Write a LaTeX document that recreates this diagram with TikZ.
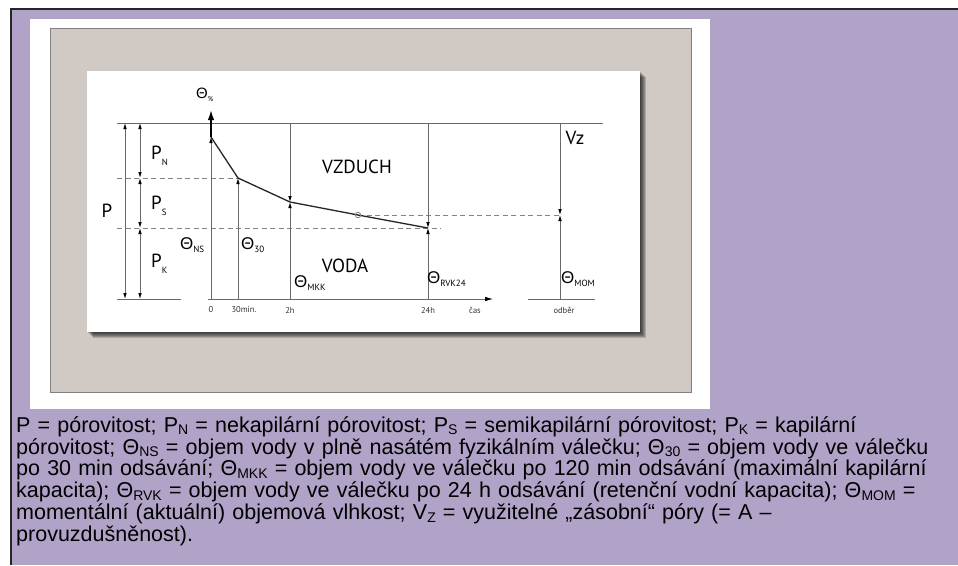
\documentclass[tikz,border=0pt]{standalone}
\usepackage{fontspec}
\setmainfont{Liberation Sans}
\newfontfamily\dfont{PT Sans}
\usetikzlibrary{arrows.meta}
\definecolor{lila}{RGB}{177,162,200}
\definecolor{beige}{RGB}{209,201,195}
\definecolor{bframe}{RGB}{130,128,126}
\definecolor{lgray}{RGB}{105,105,105}
\definecolor{dgray}{RGB}{130,130,130}
\newcommand\lsub[1]{\raisebox{-0.12em}{\fontsize{14}{14}\selectfont #1}}
\newcommand\dth{{\fontsize{17}{17}\selectfont\normalfont Θ}}
\newcommand\dsb[1]{\raisebox{-0.3em}{\fontsize{9}{9}\selectfont\dfont #1}}
\tikzset{
  gl/.style={draw=lgray, line width=0.8pt},
  dl/.style={draw=dgray, line width=0.8pt, dash pattern=on 5pt off 3.5pt},
  ar/.style={-{Latex[length=6pt,width=3.6pt,color=black]}},
  dar/.style={{Latex[length=6pt,width=3.6pt,color=black]}-{Latex[length=6pt,width=3.6pt,color=black]}},
  lbl/.style={inner sep=0pt, font=\dfont\fontsize{19}{19}\selectfont},
  ticklbl/.style={inner sep=0pt, font=\dfont\fontsize{8.5}{8.5}\selectfont, text=black!80},
  thlbl/.style={inner sep=0pt, anchor=west},
  captxt/.style={inner sep=0pt, anchor=base west, text width=940pt, align=left,
    font=\fontsize{21.5}{21.8}\selectfont}
}
\begin{document}
\begin{tikzpicture}[x=1pt,y=-1pt]
\useasboundingbox (0,0) rectangle (958,565);
\fill[white] (0,0) rectangle (958,565);
% frame
\fill[lila] (11,9) rectangle (958,565);
\draw[black!85, line width=2pt] (11,565) -- (11,8.5) -- (958,8.5);
\fill[white] (30,19) rectangle (710,409);
\draw[bframe, fill=beige, line width=1pt] (50,28) rectangle (691,392);
\foreach \i in {1,...,6} {\fill[black, opacity=0.17] (87+\i,71+\i) rectangle (640+\i,332+\i);}
\fill[white] (87,71) rectangle (640,332);

% coordinates
\coordinate (topL) at (117,123); \coordinate (topR) at (603,123);
\coordinate (botL) at (117,299); \coordinate (botLe) at (181,299);
\coordinate (ax0) at (208,299); \coordinate (axE) at (493,299);
\coordinate (od0) at (528,299); \coordinate (od1) at (595,299);
\coordinate (pT) at (125,123); \coordinate (pB) at (125,299);
\coordinate (nT) at (140,123); \coordinate (nB) at (140,178);
\coordinate (sB) at (140,228); \coordinate (kB) at (140,299);
\coordinate (d1L) at (117,178); \coordinate (d2L) at (117,228);
\coordinate (d2R) at (441,228); \coordinate (mR) at (560,215);
\coordinate (yTip) at (211,110);
\coordinate (c0) at (211,137); \coordinate (c1) at (238,178);
\coordinate (c2) at (290,202); \coordinate (c3) at (358,215);
\coordinate (c4) at (428,228);
\coordinate (z0) at (211,299); \coordinate (m30) at (238,299);
\coordinate (h2T) at (290,123); \coordinate (h2B) at (290,299);
\coordinate (h24T) at (428,123); \coordinate (h24B) at (428,299);
\coordinate (oT) at (560,123); \coordinate (oB) at (560,299); \coordinate (oM) at (560,215);

% lines
\draw[gl] (topL) -- (topR);
\draw[gl] (botL) -- (botLe);
\draw[gl, -{Latex[length=8pt,width=4.5pt,color=black]}] (ax0) -- (axE);
\draw[gl] (od0) -- (od1);
\draw[dl] (d1L) -- (c1);
\draw[dl] (d2L) -- (d2R);
\draw[dl] (c3) -- (mR);
\draw[gl, dar] (pT) -- (pB);
\draw[gl, dar] (nT) -- (nB);
\draw[gl, dar] (nB) -- (sB);
\draw[gl, dar] (sB) -- (kB);
\draw[gl, ar] (z0) -- (c0);
\draw[black, line width=1.6pt, -{Latex[length=10pt,width=6.5pt]}] (c0) -- (yTip);
\draw[gl, ar] (m30) -- (c1);
\draw[gl, ar] (h2T) -- (c2);
\draw[gl, ar] (h2B) -- (c2);
\draw[gl, ar] (h24T) -- (c4);
\draw[gl, ar] (h24B) -- (c4);
\draw[gl, ar] (oT) -- (oM);
\draw[gl, ar] (oB) -- (oM);
\draw[black!85, line width=1.3pt, line join=round] (c0) -- (c1) -- (c2) -- (c3) -- (c4);
\node[circle, draw=dgray, line width=0.8pt, inner sep=0pt, minimum size=5.5pt] (circ) at (c3) {};

% labels
\node[thlbl] (thp) at (196,95) {{\fontsize{15}{15}\selectfont Θ}\raisebox{-0.3em}{\fontsize{7}{7}\selectfont\dfont \%}};
\node[lbl] (lp) at (107,211) {P};
\node[lbl, anchor=west] (lpn) at (151,156) {P\dsb{N}};
\node[lbl, anchor=west] (lps) at (151,206) {P\dsb{S}};
\node[lbl, anchor=west] (lpk) at (151,264) {P\dsb{K}};
\node[thlbl] (tns) at (180,245) {\dth\dsb{NS}};
\node[thlbl] (t30) at (241,245) {\dth\dsb{30}};
\node[thlbl] (tmkk) at (294,283) {\dth\dsb{MKK}};
\node[thlbl] (trvk) at (427,279) {\dth\dsb{RVK24}};
\node[thlbl] (tmom) at (561,279) {\dth\dsb{MOM}};
\node[lbl] (vz) at (357,167) {VZDUCH};
\node[lbl] (voda) at (345,266) {VODA};
\node[lbl] (lvz) at (575,138) {Vz};
\node[ticklbl] (x0) at (211,310) {0};
\node[ticklbl] (x30) at (244,310) {30min.};
\node[ticklbl] (x2) at (290,310) {2h};
\node[ticklbl] (x24) at (428,310) {24h};
\node[ticklbl] (xcas) at (475,310) {čas};
\node[ticklbl] (xod) at (564,310) {odběr};

% caption
\node[captxt] (caption) at (16,432.3) {\lineskiplimit=-40pt\relax P = pórovitost; P\lsub{N} = nekapilární pórovitost; P\lsub{S} = semikapilární pórovitost; P\lsub{K} = kapilární\\
pórovitost; Θ\lsub{NS} = objem vody v plně nasátém fyzikálním válečku; Θ\lsub{30} = objem vody ve válečku\\
po 30 min odsávání; Θ\lsub{MKK} = objem vody ve válečku po 120 min odsávání (maximální kapilární\\
kapacita); Θ\lsub{RVK} = objem vody ve válečku po 24 h odsávání (retenční vodní kapacita); Θ\lsub{MOM} =\\
momentální (aktuální) objemová vlhkost; V\lsub{Z} = využitelné „zásobní“ póry (= A –\\
provuzdušněnost).};
\end{tikzpicture}
\end{document}
